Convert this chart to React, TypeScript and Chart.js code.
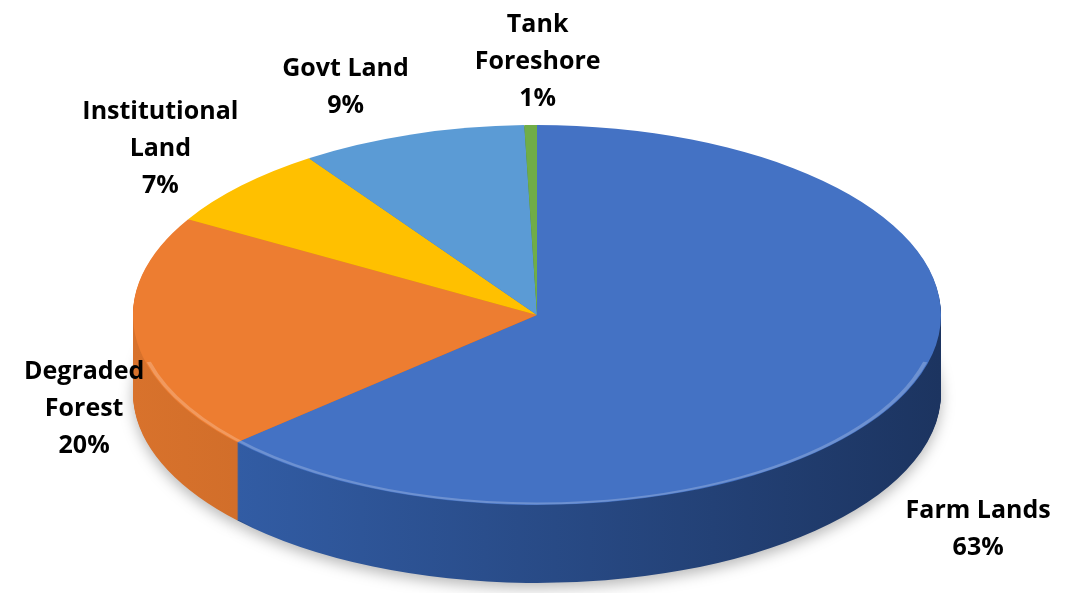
import React, { useEffect, useRef } from "react";
import { Chart, registerables } from "chart.js";

Chart.register(...registerables);

// ---- data ----
const categories = ["Farm Lands", "Degraded Forest", "Institutional Land", "Govt Land", "Tank Foreshore"];
const labelLines = [["Farm Lands"], ["Degraded", "Forest"], ["Institutional", "Land"], ["Govt Land"], ["Tank", "Foreshore"]];
const shares = [63, 20, 7, 9, 0.5];
const percentLabels = ["63%", "20%", "7%", "9%", "1%"];

// ---- style ----
const topColors = ["#4472C4", "#ED7D31", "#FFC000", "#5B9BD5", "#70AD47"];
const sideLight = ["#3562AE", "#D8722C", "#E0A800", "#4A86BE", "#5E9A3A"];
const sideDark = ["#1C3460", "#A8541C", "#B08400", "#2E5F8E", "#3F6E25"];
const SX = 404 / 190; // horizontal stretch to make the ellipse
const DEPTH = 78;
// label offsets from the rim point at the slice's mid-angle
const labelOffsets = [
  [72, 137],
  [-51, 74],
  [-81, -37],
  [-66, -47],
  [7, -63],
];
const FONT = "bold 25px 'Open Sans', 'DejaVu Sans', sans-serif";
const LINE_PITCH = 37;

const pie3d = {
  id: "pie3d",
  beforeDatasetsDraw(chart: any) {
    const meta = chart.getDatasetMeta(0);
    const arcs = meta.data;
    if (!arcs.length) return;
    const { x: cx, y: cy, outerRadius: r } = arcs[0];
    const ctx = chart.ctx as CanvasRenderingContext2D;
    ctx.save();
    ctx.translate(cx, cy);
    ctx.scale(SX, 1);
    ctx.translate(-cx, -cy);
    const grads = arcs.map((_: any, i: number) => {
      const g = ctx.createLinearGradient(cx - r, 0, cx + r, 0);
      g.addColorStop(0, sideLight[i]);
      g.addColorStop(1, sideDark[i]);
      return g;
    });
    for (let off = DEPTH; off >= 1; off--) {
      ctx.save();
      ctx.translate(0, off);
      if (off === DEPTH) {
        ctx.shadowColor = "rgba(0,0,0,0.28)";
        ctx.shadowBlur = 14;
        ctx.shadowOffsetY = 5;
      }
      arcs.forEach((arc: any, i: number) => {
        const fake = Object.create(arc);
        fake.options = { ...arc.options, backgroundColor: grads[i], borderWidth: 0 };
        arc.draw.call(fake, ctx);
      });
      ctx.restore();
    }
  },
  afterDatasetsDraw(chart: any) {
    const ctx = chart.ctx as CanvasRenderingContext2D;
    const meta = chart.getDatasetMeta(0);
    const arcs = meta.data;
    if (!arcs.length) return;
    const { x: cx, y: cy, outerRadius: r } = arcs[0];
    // rim highlight (still in stretched space)
    ctx.save();
    ctx.beginPath();
    ctx.arc(cx, cy, r - 1.5, 0.08 * Math.PI, 0.92 * Math.PI);
    ctx.strokeStyle = "rgba(255,255,255,0.22)";
    ctx.lineWidth = 2;
    ctx.stroke();
    ctx.restore();
    ctx.restore(); // end stretch

    ctx.save();
    ctx.font = FONT;
    ctx.fillStyle = "#000";
    ctx.textAlign = "center";
    ctx.textBaseline = "middle";
    arcs.forEach((arc: any, i: number) => {
      const mid = (arc.startAngle + arc.endAngle) / 2;
      const px = cx + r * SX * Math.cos(mid);
      const py = cy + r * Math.sin(mid);
      const lx = px + labelOffsets[i][0];
      const ly = py + labelOffsets[i][1];
      const lines = [...labelLines[i], percentLabels[i]];
      const start = ly - ((lines.length - 1) * LINE_PITCH) / 2;
      lines.forEach((t, k) => ctx.fillText(t, lx, start + k * LINE_PITCH));
    });
    ctx.restore();
  },
};

export default function App() {
  const ref = useRef<HTMLCanvasElement | null>(null);
  useEffect(() => {
    if (!ref.current) return;
    const chart = new Chart(ref.current, {
      type: "pie",
      data: {
        labels: categories,
        datasets: [
          {
            data: shares,
            backgroundColor: topColors,
            borderWidth: 0,
            clip: false as any,
          } as any,
        ],
      },
      options: {
        responsive: false,
        animation: false,
        layout: { padding: { top: 125, bottom: 88, left: 0, right: 3 } },
        plugins: { legend: { display: false }, tooltip: { enabled: false } },
        events: [],
      },
      plugins: [pie3d as any],
    });
    return () => chart.destroy();
  }, []);
  return (
    <div style={{ position: "absolute", left: 0, top: 0, width: 1077, height: 593, background: "#fff" }}>
      <canvas ref={ref} width={1077} height={593} />
    </div>
  );
}
